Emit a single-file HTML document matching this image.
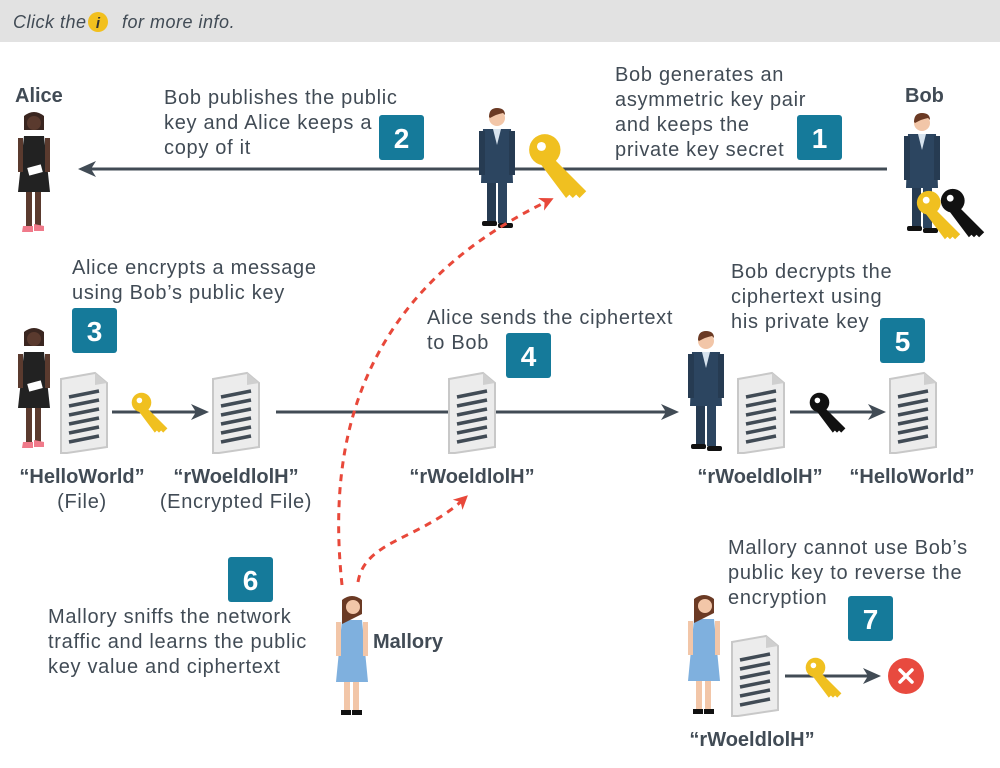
<!DOCTYPE html>
<html><head><meta charset="utf-8"><style>
html,body{margin:0;padding:0;background:#fff}
svg{display:block}
text{font-family:"Liberation Sans",sans-serif;fill:#414b55}
.d{font-size:20px;letter-spacing:0.7px}
.b{font-size:20px;font-weight:bold}
.n{font-size:28px;font-weight:bold;fill:#fff}
</style></head><body>
<svg width="1000" height="768" viewBox="0 0 1000 768" xmlns="http://www.w3.org/2000/svg">
<defs>
<marker id="ah" markerWidth="18" markerHeight="16" refX="14" refY="8" orient="auto" markerUnits="userSpaceOnUse"><path d="M0,0 L18,8 L0,16 L5,8z" fill="#414b55"/></marker>
<marker id="rh" markerWidth="14" markerHeight="14" refX="10" refY="7" orient="auto" markerUnits="userSpaceOnUse"><path d="M0,0 L14,7 L0,14 L4,7z" fill="#e8483a"/></marker>
<g id="man">
<rect x="10" y="72" width="9" height="46" fill="#263b52"/><rect x="21" y="72" width="9" height="46" fill="#2c4560"/>
<path d="M6,24 L34,24 L36,78 L4,78z" fill="#2c4560"/>
<path d="M16,24 L20,40 L24,24z" fill="#d7e3ee"/>
<rect x="2" y="26" width="6" height="44" fill="#263b52"/><rect x="32" y="26" width="6" height="44" fill="#263b52"/>
<circle cx="20" cy="13" r="8" fill="#f2c6a8"/><path d="M12,12 Q12,3 20,3 Q28,3 28,10 L26,8 Q20,9 13,13z" fill="#6b3a24"/>
<rect x="5" y="116" width="15" height="5" rx="2" fill="#111"/><rect x="21" y="118" width="15" height="5" rx="2" fill="#111"/>
</g>
<g id="alice">
<rect x="12" y="70" width="6" height="46" fill="#5a3a2e"/><rect x="21" y="70" width="6" height="46" fill="#5a3a2e"/>
<path d="M10,26 L30,26 L36,82 L4,82z" fill="#222"/>
<rect x="4" y="28" width="5" height="34" fill="#5a3a2e"/><rect x="31" y="28" width="5" height="34" fill="#5a3a2e"/>
<rect x="14" y="56" width="14" height="8" fill="#fff" transform="rotate(-15 21 60)"/>
<path d="M10,20 L10,6 Q20,-2 30,6 L30,20z" fill="#3a2620"/><circle cx="20" cy="13" r="7" fill="#5a3a2e"/>
<path d="M9,116 L19,116 L19,122 L8,122z" fill="#f07a8a"/><path d="M20,114 L30,116 L30,121 L20,121z" fill="#f07a8a"/>
</g>
<g id="mallory">
<rect x="12" y="70" width="6" height="46" fill="#f2c6a8"/><rect x="21" y="70" width="6" height="46" fill="#f2c6a8"/>
<path d="M10,26 L30,26 L36,88 L4,88z" fill="#7fb0de"/>
<rect x="4" y="28" width="5" height="34" fill="#f2c6a8"/><rect x="31" y="28" width="5" height="34" fill="#f2c6a8"/>
<path d="M10,30 L10,6 Q20,-2 30,6 L30,20z" fill="#6b3a24"/><circle cx="21" cy="13" r="7" fill="#f2c6a8"/>
<rect x="9" y="116" width="10" height="5" fill="#111"/><rect x="20" y="116" width="10" height="5" fill="#111"/>
</g>
<g id="doc">
<path d="M0,6 L34,0 L46,10 L46,74 L6,80 L0,80z" fill="#ececec" stroke="#c8c8c8" stroke-width="2"/>
<path d="M34,0 L34,12 L46,10z" fill="#cfcfcf"/>
<g stroke="#414b55" stroke-width="3.5"><line x1="8" y1="24" x2="38" y2="18"/><line x1="8" y1="33" x2="38" y2="27"/><line x1="8" y1="42" x2="38" y2="36"/><line x1="8" y1="51" x2="38" y2="45"/><line x1="8" y1="60" x2="38" y2="54"/><line x1="8" y1="69" x2="38" y2="63"/></g>
</g>
<g id="key">
<path d="M15,15 L52,52 L46,58 L43,55 L40,58 L37,55 L34,58 L10,26z" fill="currentColor"/>
<circle cx="15" cy="15" r="14" fill="currentColor"/><circle cx="12" cy="12" r="4" fill="#fff"/>
</g>
</defs>

<rect x="0" y="0" width="1000" height="42" fill="#e2e2e2"/>
<text x="13" y="28" style="font-size:18px;font-style:italic;letter-spacing:0.5px">Click the <tspan dx="30">for more info.</tspan></text>
<g><circle cx="98" cy="22" r="10" fill="#f2c01e"/><text x="98" y="28" text-anchor="middle" style="font-size:15px;font-weight:bold;font-style:italic;fill:#333">i</text></g>

<text x="15" y="102" class="b">Alice</text>
<text x="905" y="102" class="b">Bob</text>
<use href="#alice" x="14" y="110"/>
<line x1="887" y1="169" x2="82" y2="169" stroke="#414b55" stroke-width="3" marker-end="url(#ah)"/>
<use href="#man" x="477" y="105"/>
<use href="#key" transform="translate(528,133) scale(1.12)" style="color:#f0c020"/>
<use href="#man" x="902" y="110"/>
<use href="#key" transform="translate(940,188) scale(0.85)" style="color:#111"/>
<use href="#key" transform="translate(916,190) scale(0.85)" style="color:#f0c020"/>
<text class="d"><tspan x="164" y="104">Bob publishes the public</tspan><tspan x="164" y="129">key and Alice keeps a</tspan><tspan x="164" y="154">copy of it</tspan></text>
<text class="d"><tspan x="615" y="81">Bob generates an</tspan><tspan x="615" y="106">asymmetric key pair</tspan><tspan x="615" y="131">and keeps the</tspan><tspan x="615" y="156">private key secret</tspan></text>
<g><rect x="797" y="115" width="45" height="45" rx="3" fill="#157a9a"/><text x="819.5" y="148" text-anchor="middle" class="n">1</text></g>
<g><rect x="379" y="115" width="45" height="45" rx="3" fill="#157a9a"/><text x="401.5" y="148" text-anchor="middle" class="n">2</text></g>

<text class="d"><tspan x="72" y="274">Alice encrypts a message</tspan><tspan x="72" y="299">using Bob’s public key</tspan></text>
<g><rect x="72" y="308" width="45" height="45" rx="3" fill="#157a9a"/><text x="94.5" y="341" text-anchor="middle" class="n">3</text></g>
<use href="#alice" x="14" y="326"/>
<use href="#doc" x="61" y="373"/>
<line x1="112" y1="412" x2="205" y2="412" stroke="#414b55" stroke-width="3" marker-end="url(#ah)"/>
<use href="#key" transform="translate(131,392) scale(0.7)" style="color:#f0c020"/>
<use href="#doc" x="213" y="373"/>
<line x1="276" y1="412" x2="675" y2="412" stroke="#414b55" stroke-width="3" marker-end="url(#ah)"/>
<use href="#doc" x="449" y="373"/>
<text class="d"><tspan x="427" y="324">Alice sends the ciphertext</tspan><tspan x="427" y="349">to Bob</tspan></text>
<g><rect x="506" y="333" width="45" height="45" rx="3" fill="#157a9a"/><text x="528.5" y="366" text-anchor="middle" class="n">4</text></g>
<text class="d"><tspan x="731" y="278">Bob decrypts the</tspan><tspan x="731" y="303">ciphertext using</tspan><tspan x="731" y="328">his private key</tspan></text>
<g><rect x="880" y="318" width="45" height="45" rx="3" fill="#157a9a"/><text x="902.5" y="351" text-anchor="middle" class="n">5</text></g>
<use href="#man" x="686" y="328"/>
<use href="#doc" x="738" y="373"/>
<line x1="790" y1="412" x2="882" y2="412" stroke="#414b55" stroke-width="3" marker-end="url(#ah)"/>
<use href="#key" transform="translate(809,392) scale(0.7)" style="color:#111"/>
<use href="#doc" x="890" y="373"/>
<text x="82" y="483" text-anchor="middle" class="b">“HelloWorld”</text>
<text x="82" y="508" text-anchor="middle" class="d">(File)</text>
<text x="236" y="483" text-anchor="middle" class="b">“rWoeldlolH”</text>
<text x="236" y="508" text-anchor="middle" class="d">(Encrypted File)</text>
<text x="472" y="483" text-anchor="middle" class="b">“rWoeldlolH”</text>
<text x="760" y="483" text-anchor="middle" class="b">“rWoeldlolH”</text>
<text x="912" y="483" text-anchor="middle" class="b">“HelloWorld”</text>

<path d="M342,585 C330,470 340,300 550,200" fill="none" stroke="#e8483a" stroke-width="3" stroke-dasharray="7,6" marker-end="url(#rh)"/>
<path d="M358,582 C365,540 420,540 465,498" fill="none" stroke="#e8483a" stroke-width="3" stroke-dasharray="7,6" marker-end="url(#rh)"/>
<g><rect x="228" y="557" width="45" height="45" rx="3" fill="#157a9a"/><text x="250.5" y="590" text-anchor="middle" class="n">6</text></g>
<text class="d"><tspan x="48" y="623">Mallory sniffs the network</tspan><tspan x="48" y="648">traffic and learns the public</tspan><tspan x="48" y="673">key value and ciphertext</tspan></text>
<use href="#mallory" x="332" y="594"/>
<text x="373" y="648" class="b">Mallory</text>

<text class="d"><tspan x="728" y="554">Mallory cannot use Bob’s</tspan><tspan x="728" y="579">public key to reverse the</tspan><tspan x="728" y="604">encryption</tspan></text>
<g><rect x="848" y="596" width="45" height="45" rx="3" fill="#157a9a"/><text x="870.5" y="629" text-anchor="middle" class="n">7</text></g>
<use href="#mallory" x="684" y="593"/>
<use href="#doc" x="732" y="636"/>
<line x1="785" y1="676" x2="877" y2="676" stroke="#414b55" stroke-width="3" marker-end="url(#ah)"/>
<use href="#key" transform="translate(805,657) scale(0.7)" style="color:#f0c020"/>
<g><circle cx="906" cy="676" r="18" fill="#e84a3f"/><path d="M900,670 L912,682 M912,670 L900,682" stroke="#fff" stroke-width="3.5" stroke-linecap="round"/></g>
<text x="752" y="746" text-anchor="middle" class="b">“rWoeldlolH”</text>
</svg>
</body></html>
